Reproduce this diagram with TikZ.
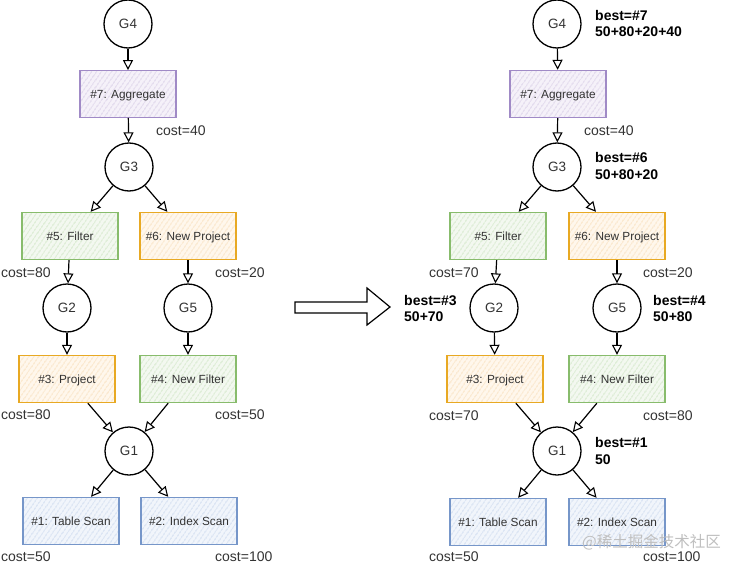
\documentclass[tikz,border=0pt]{standalone}
\usepackage{fontspec}
\setmainfont{Liberation Sans}
\newfontfamily\cjkfont{Noto Sans CJK SC}
\usetikzlibrary{arrows.meta,patterns.meta}
\definecolor{txtc}{HTML}{333333}
\definecolor{purpleB}{HTML}{A08AC6}
\definecolor{purpleH}{HTML}{CABCDD}
\definecolor{purpleF}{HTML}{F5F1F9}
\definecolor{greenB}{HTML}{88BC6C}
\definecolor{greenH}{HTML}{BFDCB0}
\definecolor{greenF}{HTML}{F3F8F0}
\definecolor{orangeB}{HTML}{E8A923}
\definecolor{orangeH}{HTML}{F4D3A4}
\definecolor{orangeF}{HTML}{FFF7EC}
\definecolor{blueB}{HTML}{7696C9}
\definecolor{blueH}{HTML}{BBCDE8}
\definecolor{blueF}{HTML}{F1F5FB}
\begin{document}
\begin{tikzpicture}[x=1pt,y=-1pt,
  gnode/.style={circle,draw=black,line width=1.3pt,minimum size=48pt,inner sep=0pt,
    font=\fontsize{13.5}{16}\selectfont,text=txtc},
  opbox/.style={rectangle,line width=1.4pt,minimum width=96pt,minimum height=47pt,inner sep=0pt,
    text height=10pt,text depth=1pt,
    font=\fontsize{11.8}{14}\selectfont,text=txtc},
  hatch/.style={pattern={Lines[angle=55,distance=4pt,line width=0.8pt]},pattern color=#1},
  purplebox/.style={opbox,draw=purpleB,preaction={fill=purpleF},hatch=purpleH},
  greenbox/.style={opbox,draw=greenB,preaction={fill=greenF},hatch=greenH},
  orangebox/.style={opbox,draw=orangeB,preaction={fill=orangeF},hatch=orangeH},
  bluebox/.style={opbox,draw=blueB,preaction={fill=blueF},hatch=blueH},
  costlbl/.style={anchor=west,inner sep=0pt,font=\fontsize{14}{16}\selectfont,text=txtc},
  bestlbl/.style={anchor=west,inner sep=0pt,align=left,font=\fontsize{14}{16.5}\selectfont\bfseries,text=black},
  edge/.style={-{Triangle[open,length=10pt,width=10pt,line width=1.1pt]},line width=1.2pt,black}
]
\useasboundingbox[fill=white] (0,0) rectangle (738,567);

% ---------- left tree ----------
\node[gnode] (lg4) at (128,24) {G4};
\node[purplebox] (lagg) at (128,94) {\#7: Aggregate};
\node[gnode] (lg3) at (129,167) {G3};
\node[greenbox] (lfil) at (70,236) {\#5: Filter};
\node[orangebox] (lnp) at (188,236) {\#6: New Project};
\node[gnode] (lg2) at (67,308) {G2};
\node[gnode] (lg5) at (188,308) {G5};
\node[orangebox] (lproj) at (67,379) {\#3: Project};
\node[greenbox] (lnf) at (188,379) {\#4: New Filter};
\node[gnode] (lg1) at (129,451) {G1};
\node[bluebox] (lts) at (71,521) {\#1: Table Scan};
\node[bluebox] (lis) at (189,521) {\#2: Index Scan};

\draw[edge] (lg4) -- (lagg);
\draw[edge] (lagg) -- (lg3);
\draw[edge] (lg3) -- (lfil);
\draw[edge] (lg3) -- (lnp);
\draw[edge] (lfil) -- (lg2);
\draw[edge] (lnp) -- (lg5);
\draw[edge] (lg2) -- (lproj);
\draw[edge] (lg5) -- (lnf);
\draw[edge] (lproj) -- (lg1);
\draw[edge] (lnf) -- (lg1);
\draw[edge] (lg1) -- (lts);
\draw[edge] (lg1) -- (lis);

\node[costlbl] (lc7) at (156,131) {cost=40};
\node[costlbl] (lc5) at (1,273) {cost=80};
\node[costlbl] (lc6) at (215,273) {cost=20};
\node[costlbl] (lc3) at (1,415) {cost=80};
\node[costlbl] (lc4) at (215,415) {cost=50};
\node[costlbl] (lc1) at (1,557) {cost=50};
\node[costlbl] (lc2) at (215,557) {cost=100};

% ---------- big arrow ----------
\draw[line width=1.2pt,fill=white,line join=miter] (295,302) -- (367,302) -- (367,288) -- (390,307)
  -- (367,325) -- (367,313) -- (295,313) -- cycle;

% ---------- right tree ----------
\node[gnode] (rg4) at (557,24) {G4};
\node[purplebox] (ragg) at (558,94) {\#7: Aggregate};
\node[gnode] (rg3) at (557,167) {G3};
\node[greenbox] (rfil) at (498,236) {\#5: Filter};
\node[orangebox] (rnp) at (617,236) {\#6: New Project};
\node[gnode] (rg2) at (494,308) {G2};
\node[gnode] (rg5) at (617,308) {G5};
\node[orangebox] (rproj) at (495,379) {\#3: Project};
\node[greenbox] (rnf) at (617,379) {\#4: New Filter};
\node[gnode] (rg1) at (557,451) {G1};
\node[bluebox] (rts) at (498,522) {\#1: Table Scan};
\node[bluebox] (ris) at (617,522) {\#2: Index Scan};

\draw[edge] (rg4) -- (ragg);
\draw[edge] (ragg) -- (rg3);
\draw[edge] (rg3) -- (rfil);
\draw[edge] (rg3) -- (rnp);
\draw[edge] (rfil) -- (rg2);
\draw[edge] (rnp) -- (rg5);
\draw[edge] (rg2) -- (rproj);
\draw[edge] (rg5) -- (rnf);
\draw[edge] (rproj) -- (rg1);
\draw[edge] (rnf) -- (rg1);
\draw[edge] (rg1) -- (rts);
\draw[edge] (rg1) -- (ris);

\node[costlbl] (rc7) at (584,131) {cost=40};
\node[costlbl] (rc5) at (429,273) {cost=70};
\node[costlbl] (rc6) at (643,273) {cost=20};
\node[costlbl] (rc3) at (429,416) {cost=70};
\node[costlbl] (rc4) at (643,416) {cost=80};
\node[costlbl] (rc1) at (429,557) {cost=50};
\node[costlbl] (rc2) at (643,557) {cost=100};

\node[bestlbl] (rb4) at (595,23.5) {best=\#7\\50+80+20+40};
\node[bestlbl] (rb3) at (595,166) {best=\#6\\50+80+20};
\node[bestlbl] (rb2) at (404,308.5) {best=\#3\\50+70};
\node[bestlbl] (rb5) at (653,308.5) {best=\#4\\50+80};
\node[bestlbl] (rb1) at (595,451) {best=\#1\\50};

% watermark
\node[anchor=west,inner sep=0pt,text=black!25,font=\cjkfont\fontsize{15.5}{18}\selectfont] (wm) at (582,542) {@稀土掘金技术社区};
\end{tikzpicture}
\end{document}
